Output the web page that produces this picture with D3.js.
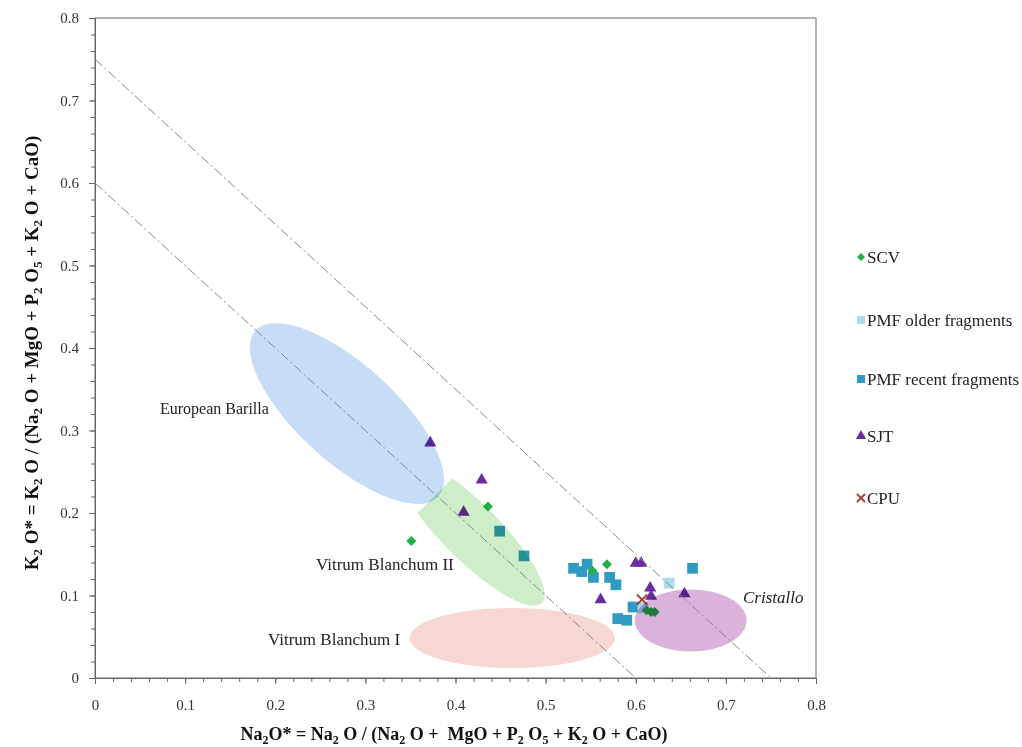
<!DOCTYPE html>
<html>
<head>
<meta charset="utf-8">
<script src="https://cdn.jsdelivr.net/npm/d3@7"></script>
<style>
  body { margin: 0; background: #fff; }
  svg text { font-family: "Liberation Serif", "Times New Roman", serif; }
</style>
</head>
<body>
<div id="chart"></div>
<script>
// Data (Na2O*, K2O*)
const scv = [[0.351, 0.166], [0.436, 0.208], [0.568, 0.138], [0.552, 0.130],
  [0.612, 0.082], [0.617, 0.080], [0.621, 0.080]];
const pmfOlder = [[0.637, 0.115], [0.608, 0.085]];
const pmfRecent = [[0.476, 0.148], [0.449, 0.178], [0.531, 0.133], [0.540, 0.129],
  [0.546, 0.138], [0.553, 0.122], [0.571, 0.122], [0.578, 0.113], [0.663, 0.133],
  [0.597, 0.086], [0.580, 0.072], [0.590, 0.070]];
const sjt = [[0.372, 0.285], [0.429, 0.240], [0.409, 0.201], [0.600, 0.139],
  [0.606, 0.139], [0.561, 0.095], [0.616, 0.109], [0.617, 0.099], [0.654, 0.102]];
const cpu = [[0.607, 0.095]];

const seriesNames = ["SCV", "PMF older fragments", "PMF recent fragments", "SJT", "CPU"];

// reference fields: rotated ones by the ends of their long axis + half width
const barillaAxis = [[0.178, 0.421], [0.381, 0.220]];
const barillaHalfWidth = 0.054;
const blanchum2Axis = [[0.377, 0.221], [0.496, 0.091]]; // flat end -> tip
const blanchum2HalfWidth = 0.0315;  // widest part
const blanchum2Waist = 1 / 3;       // where the widest part sits along the axis
const blanchum1 = { cx: 0.463, cy: 0.0485, rx: 0.114, ry: 0.0364 };
const cristallo = { cx: 0.661, cy: 0.0697, rx: 0.062, ry: 0.0376 };

// dash-dot reference lines Na2O* + K2O* = const
const sumLines = [0.75, 0.6];

const xTicks = [0, 0.1, 0.2, 0.3, 0.4, 0.5, 0.6, 0.7, 0.8];
const yTicks = [0, 0.1, 0.2, 0.3, 0.4, 0.5, 0.6, 0.7, 0.8];

const width = 1022, height = 747;
const plot = { left: 95, right: 816, top: 18, bottom: 678 };

const svg = d3.select("#chart").append("svg")
  .attr("width", width)
  .attr("height", height);

const x = d3.scaleLinear().domain([0, 0.8]).range([plot.left, plot.right]);
const y = d3.scaleLinear().domain([0, 0.8]).range([plot.bottom, plot.top]);

const fmt = d => d === 0 ? "0" : d3.format(".1f")(d);
const minor = d3.range(0, 0.8001, 0.02);

// frame
svg.append("rect")
  .attr("x", plot.left).attr("y", plot.top)
  .attr("width", plot.right - plot.left).attr("height", plot.bottom - plot.top)
  .attr("fill", "none").attr("stroke", "#666").attr("stroke-width", 1);

// minor ticks
svg.append("g")
  .attr("transform", `translate(0,${plot.bottom})`)
  .call(d3.axisBottom(x).tickValues(minor).tickSize(4).tickFormat(""))
  .call(g => g.select(".domain").remove())
  .selectAll("line").attr("stroke", "#666");
svg.append("g")
  .attr("transform", `translate(${plot.left},0)`)
  .call(d3.axisLeft(y).tickValues(minor).tickSize(4).tickFormat(""))
  .call(g => g.select(".domain").remove())
  .selectAll("line").attr("stroke", "#666");

// major ticks + labels
const xAxis = svg.append("g")
  .attr("transform", `translate(0,${plot.bottom})`)
  .call(d3.axisBottom(x).tickValues(xTicks).tickSize(6).tickPadding(15).tickFormat(fmt));
xAxis.select(".domain").attr("stroke", "#666");
xAxis.selectAll("line").attr("stroke", "#666");
xAxis.selectAll("text").attr("font-size", 15).attr("fill", "#333")
  .attr("font-family", "Liberation Serif");

const yAxis = svg.append("g")
  .attr("transform", `translate(${plot.left},0)`)
  .call(d3.axisLeft(y).tickValues(yTicks).tickSize(6).tickPadding(10).tickFormat(fmt));
yAxis.select(".domain").attr("stroke", "#666");
yAxis.selectAll("line").attr("stroke", "#666");
yAxis.selectAll("text").attr("font-size", 15).attr("fill", "#333")
  .attr("font-family", "Liberation Serif");

// points
const markers = svg.append("g");
const sq = d3.symbol().type(d3.symbolSquare);

markers.selectAll(".pmfr").data(pmfRecent).join("path")
  .attr("d", sq.size(115)())
  .attr("transform", d => `translate(${x(d[0])},${y(d[1])})`)
  .attr("fill", "#2f9ac2");
markers.selectAll(".pmfo").data(pmfOlder).join("path")
  .attr("d", sq.size(115)())
  .attr("transform", d => `translate(${x(d[0])},${y(d[1])})`)
  .attr("fill", "#a9dcef");
markers.selectAll(".scv").data(scv).join("path")
  .attr("d", sq.size(50)())
  .attr("transform", d => `translate(${x(d[0])},${y(d[1])}) rotate(45)`)
  .attr("fill", "#20b04a");
markers.selectAll(".sjt").data(sjt).join("path")
  .attr("d", d3.symbol().type(d3.symbolTriangle).size(64)())
  .attr("transform", d => `translate(${x(d[0])},${y(d[1])})`)
  .attr("fill", "#6a2c9e");
markers.selectAll(".cpu").data(cpu).join("path")
  .attr("d", d3.symbol().type(d3.symbolTimes).size(70)())
  .attr("transform", d => `translate(${x(d[0])},${y(d[1])})`)
  .attr("fill", "none").attr("stroke", "#a5473a").attr("stroke-width", 2);

// reference fields, multiplied over the points
const fields = svg.append("g");

function rotatedEllipse(axis, halfWidth, color) {
  const p1 = [x(axis[0][0]), y(axis[0][1])];
  const p2 = [x(axis[1][0]), y(axis[1][1])];
  const a = Math.hypot(p2[0] - p1[0], p2[1] - p1[1]) / 2;
  const ang = Math.atan2(p2[1] - p1[1], p2[0] - p1[0]) * 180 / Math.PI;
  fields.append("ellipse")
    .attr("rx", a).attr("ry", x(halfWidth) - x(0))
    .attr("transform", `translate(${(p1[0] + p2[0]) / 2},${(p1[1] + p2[1]) / 2}) rotate(${ang})`)
    .attr("fill", color).style("mix-blend-mode", "multiply");
}

// ellipse cut flat at one end (the first axis point)
function cutEllipse(axis, halfWidth, waist, color) {
  const p1 = [x(axis[0][0]), y(axis[0][1])];
  const p2 = [x(axis[1][0]), y(axis[1][1])];
  const len = Math.hypot(p2[0] - p1[0], p2[1] - p1[1]);
  const c = len * waist, A = len - c;
  const B = x(halfWidth) - x(0);
  const h = B * Math.sqrt(1 - (c / A) * (c / A));
  const ang = Math.atan2(p2[1] - p1[1], p2[0] - p1[0]) * 180 / Math.PI;
  fields.append("path")
    .attr("d", `M0,${-h}A${A},${B} 0 1 1 0,${h}Z`)
    .attr("transform", `translate(${p1[0]},${p1[1]}) rotate(${ang})`)
    .attr("fill", color).style("mix-blend-mode", "multiply");
}

function plainEllipse(e, color) {
  fields.append("ellipse")
    .attr("cx", x(e.cx)).attr("cy", y(e.cy))
    .attr("rx", x(e.rx) - x(0)).attr("ry", y(0) - y(e.ry))
    .attr("fill", color).style("mix-blend-mode", "multiply");
}

rotatedEllipse(barillaAxis, barillaHalfWidth, "#c7dcf6");
cutEllipse(blanchum2Axis, blanchum2HalfWidth, blanchum2Waist, "#cdeec9");
plainEllipse(blanchum1, "#f6d7d3");
plainEllipse(cristallo, "#dab2dc");

// dash-dot lines
svg.append("g").selectAll("line").data(sumLines).join("line")
  .attr("x1", x(0)).attr("y1", d => y(d))
  .attr("x2", d => x(d)).attr("y2", y(0))
  .attr("stroke", "#888").attr("stroke-width", 1)
  .attr("stroke-dasharray", "10,3,2,3");

// field labels
const labels = svg.append("g").attr("font-size", 17).attr("fill", "#222");
labels.append("text").attr("x", 160).attr("y", 414).attr("font-size", 16).text("European Barilla");
labels.append("text").attr("x", 316).attr("y", 570).text("Vitrum Blanchum II");
labels.append("text").attr("x", 268).attr("y", 645).text("Vitrum Blanchum I");
labels.append("text").attr("x", 743).attr("y", 603).attr("font-style", "italic").text("Cristallo");

// axis titles: plain strings, [sub] arrays become subscripts
function subText(sel, parts, subSize) {
  let shift = 0;
  parts.forEach(p => {
    const t = sel.append("tspan");
    if (Array.isArray(p)) {
      t.attr("font-size", subSize).attr("dy", 4 - shift).text(p[0]);
      shift = 4;
    } else {
      t.attr("dy", -shift).text(p);
      shift = 0;
    }
  });
}

const xTitle = svg.append("text")
  .attr("x", 454).attr("y", 740)
  .attr("text-anchor", "middle").attr("font-size", 18).attr("font-weight", "bold")
  .attr("fill", "#111").style("white-space", "pre");
subText(xTitle, ["Na", ["2"], "O* = Na", ["2"], " O / (Na", ["2"], " O +  MgO + P", ["2"], " O", ["5"],
  " + K", ["2"], " O + CaO)"], 12);

const yTitle = svg.append("text")
  .attr("transform", "translate(38,353) rotate(-90)")
  .attr("text-anchor", "middle").attr("font-size", 19).attr("font-weight", "bold")
  .attr("fill", "#111");
subText(yTitle, ["K", ["2"], " O* = K", ["2"], " O / (Na", ["2"], " O + MgO + P", ["2"], " O", ["5"],
  " + K", ["2"], " O + CaO)"], 13);

// legend
const legendY = [257, 320, 379, 436, 498];
const legend = svg.append("g").attr("font-size", 17).attr("fill", "#222");
const legendSymbols = [
  g => g.append("path").attr("d", sq.size(32)()).attr("transform", "rotate(45)").attr("fill", "#20b04a"),
  g => g.append("path").attr("d", sq.size(64)()).attr("fill", "#a9dcef"),
  g => g.append("path").attr("d", sq.size(64)()).attr("fill", "#2f9ac2"),
  g => g.append("path").attr("d", d3.symbol().type(d3.symbolTriangle).size(45)()).attr("fill", "#6a2c9e"),
  g => g.append("path").attr("d", d3.symbol().type(d3.symbolTimes).size(45)())
    .attr("fill", "none").attr("stroke", "#a5473a").attr("stroke-width", 2)
];
seriesNames.forEach((name, i) => {
  const g = legend.append("g").attr("transform", `translate(861,${legendY[i]})`);
  legendSymbols[i](g);
  g.append("text").attr("x", 6).attr("y", 6).text(name);
});
</script>
</body>
</html>
